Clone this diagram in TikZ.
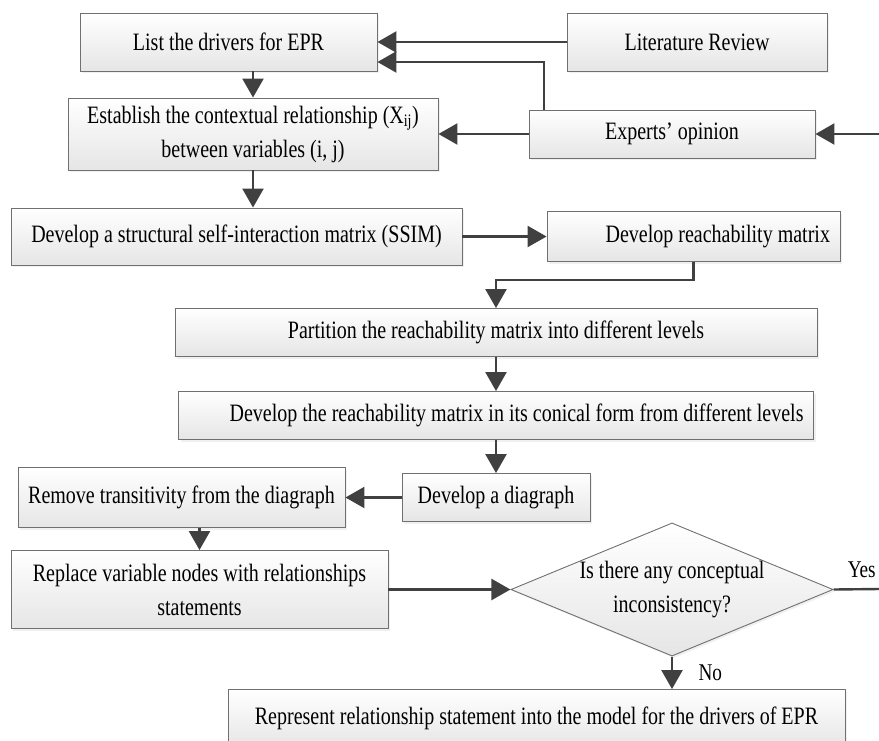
\documentclass[tikz,border=0pt]{standalone}
\usepackage{fontspec}
\setmainfont[FakeStretch=0.8]{Liberation Serif}
\usetikzlibrary{positioning,shapes.geometric,arrows.meta,shadows}
\definecolor{lineGray}{HTML}{404040}
\definecolor{edgeGray}{HTML}{707070}
\tikzset{
  stepBox/.style={draw=edgeGray, line width=0.9pt, top color=white, bottom color=black!10,
    inner sep=0pt, align=center, font=\fontsize{25}{34}\selectfont,
    drop shadow={opacity=0.12, shadow xshift=2pt, shadow yshift=-2pt}},
  flow/.style={draw=lineGray, line width=2.4pt, -{Triangle[length=19pt,width=21pt]}},
  plainFlow/.style={draw=lineGray, line width=2.4pt},
  tag/.style={font=\fontsize{24}{28}\selectfont},
}

\begin{document}
\begin{tikzpicture}[x=1pt, y=-1pt, on grid]
    \useasboundingbox (0,0) rectangle (879,740);
    \clip (0,0) rectangle (879,740);
    \node[stepBox, minimum width=297pt, minimum height=58pt] (listDrivers) at (228.5,42) {List the drivers for EPR};
    \node[stepBox, minimum width=260pt, minimum height=58pt, right=468.5pt of listDrivers] (litReview) {Literature Review};
    \node[stepBox, minimum width=370pt, minimum height=72pt, below right=92pt and 24.5pt of listDrivers] (establish) {Establish the contextual relationship (X\textsubscript{ij})\\between variables (i, j)};
    \node[stepBox, minimum width=286pt, minimum height=48pt, below left=92pt and 25pt of litReview] (experts) {Experts’ opinion};
    \node[stepBox, minimum width=451pt, minimum height=57pt, below left=102.5pt and 16.5pt of establish] (ssim) {Develop a structural self-interaction matrix (SSIM)};
    \node[stepBox, minimum width=293pt, minimum height=50pt, text width=273pt, align=flush right, right=457pt of ssim] (reachMatrix) {Develop reachability matrix};
    \node[stepBox, minimum width=642pt, minimum height=48pt, below left=96pt and 197.5pt of reachMatrix] (partition) {Partition the reachability matrix into different levels};
    \node[stepBox, minimum width=635pt, minimum height=48pt, text width=615pt, align=flush right, below=83pt of partition] (conical) {Develop the reachability matrix in its conical form from different levels};
    \node[stepBox, minimum width=188pt, minimum height=48pt, below=82pt of conical] (digraph) {Develop a diagraph};
    \node[stepBox, minimum width=327pt, minimum height=60pt, left=314.5pt of digraph] (removeTrans) {Remove transitivity from the diagraph};
    \node[stepBox, minimum width=377pt, minimum height=78pt, below right=92pt and 18pt of removeTrans] (replaceNodes) {Replace variable nodes with relationships\\statements};
    \node[stepBox, diamond, aspect=2.42, minimum width=312pt, minimum height=129pt, right=472.5pt of replaceNodes] (decide) {Is there any conceptual\\inconsistency?};
    \node[stepBox, minimum width=617pt, minimum height=58pt, below left=129pt and 135.5pt of decide] (represent) {Represent relationship statement into the model for the drivers of EPR};
    \coordinate (expertsIn) at (879,134);
    \coordinate (yesEnd) at (879,589);

    \draw[flow] (litReview.west) -- (listDrivers.east);
    \draw[flow] ([xshift=-128pt]experts.north) |- ([yshift=-20pt]listDrivers.east);
    \draw[flow] (expertsIn) -- (experts.east);
    \draw[flow] (experts.west) -- (establish.east);
    \draw[flow] (listDrivers.south -| establish.north) -- (establish.north);
    \draw[flow] (establish.south) -- (establish.south |- ssim.north);
    \draw[flow] (ssim.east) -- (ssim.east -| reachMatrix.west);
    \draw[flow] (reachMatrix.south) -- ++(0,18) -| (partition.north);
    \draw[flow] (partition.south) -- (partition.south |- conical.north);
    \draw[flow] (conical.south) -- (conical.south |- digraph.north);
    \draw[flow] (digraph.west) -- (removeTrans.east);
    \draw[flow] (removeTrans.south -| replaceNodes.north) -- (replaceNodes.north);
    \draw[flow] (replaceNodes.east) -- (decide.west);
    \draw[plainFlow] (decide.east) -- node[tag, above=7pt, pos=0.62] {Yes} (yesEnd);
    \draw[flow] (decide.south) -- node[tag, right=22pt] {No} (represent.north -| decide.south);
\end{tikzpicture}
\end{document}
